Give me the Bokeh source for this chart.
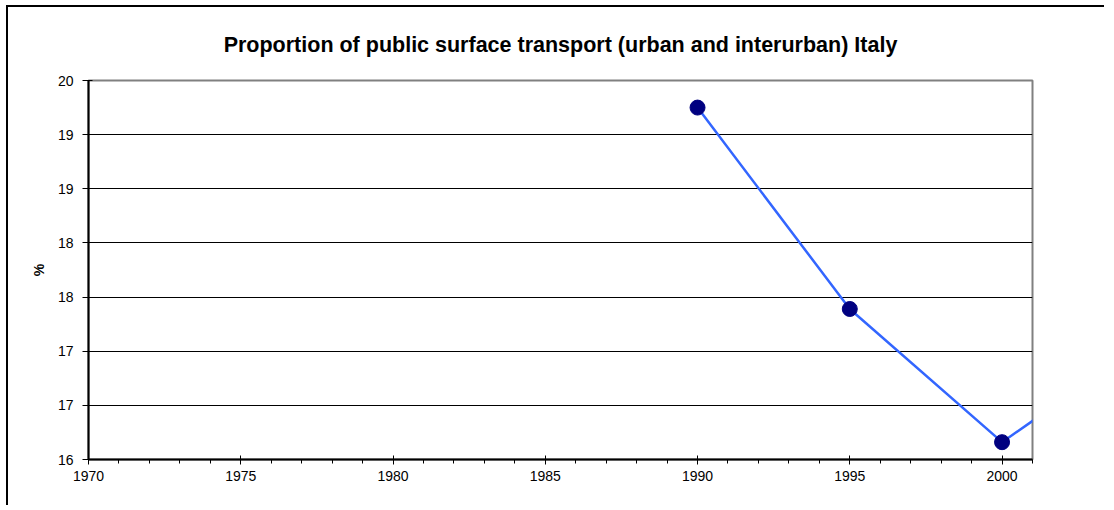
from bokeh.plotting import figure
from bokeh.models import FixedTicker, CustomJSTickFormatter, Range1d
from bokeh.embed import file_html
from bokeh.resources import INLINE

title_text = "Proportion of public surface transport (urban and interurban) Italy"
y_label = "%"
years = [1990, 1995, 2000, 2005]
share = [19.25, 17.39, 16.16, 17.14]
y_ticks = [16.0, 16.5, 17.0, 17.5, 18.0, 18.5, 19.0, 19.5]
x_major = [1970, 1975, 1980, 1985, 1990, 1995, 2000]
x_minor = list(range(1970, 2002))

p = figure(width=1098, height=500, output_backend="svg", toolbar_location=None,
           x_range=Range1d(1970, 2001), y_range=Range1d(16, 19.5),
           min_border_left=80, min_border_right=74, min_border_top=73, min_border_bottom=48)
p.styles = {"border-left": "2px solid black", "border-top": "2px solid black",
            "margin-left": "6px", "margin-top": "5px"}

p.title.text = title_text
p.title.align = "center"
p.title.text_font = "Liberation Sans"
p.title.text_font_style = "bold"
p.title.text_font_size = "21.5px"
p.title.text_color = "black"
p.title.offset = 7
p.title.standoff = 47

p.outline_line_color = "#808080"
p.outline_line_width = 2
p.background_fill_color = "white"
p.border_fill_color = "white"

# grid
p.xgrid.visible = False
p.ygrid.grid_line_color = "black"
p.ygrid.grid_line_width = 1
p.ygrid.ticker = FixedTicker(ticks=y_ticks)

# y axis
p.yaxis.ticker = FixedTicker(ticks=y_ticks)
p.yaxis.formatter = CustomJSTickFormatter(code="return Math.round(tick).toFixed(0);")
p.yaxis.axis_label = y_label
p.yaxis.axis_label_text_font = "Liberation Sans"
p.yaxis.axis_label_text_font_style = "bold"
p.yaxis.axis_label_text_font_size = "14px"
p.yaxis.axis_label_text_color = "black"
p.yaxis.axis_label_standoff = 8
p.yaxis.major_label_text_font = "Liberation Sans"
p.yaxis.major_label_text_font_size = "14px"
p.yaxis.major_label_text_color = "black"
p.yaxis.major_label_standoff = 9
p.yaxis.major_tick_out = 6
p.yaxis.major_tick_in = 4
p.yaxis.minor_tick_line_color = None
p.yaxis.axis_line_color = "black"
p.yaxis.axis_line_width = 2
p.yaxis.major_tick_line_color = "black"

# x axis
p.xaxis.ticker = FixedTicker(ticks=x_major, minor_ticks=x_minor)
p.xaxis.major_label_text_font = "Liberation Sans"
p.xaxis.major_label_text_font_size = "14px"
p.xaxis.major_label_text_color = "black"
p.xaxis.major_label_standoff = 6
p.xaxis.major_tick_out = 5
p.xaxis.major_tick_in = 4
p.xaxis.minor_tick_out = 4
p.xaxis.minor_tick_in = 0
p.xaxis.axis_line_color = "black"
p.xaxis.axis_line_width = 2
p.xaxis.major_tick_line_color = "black"
p.xaxis.minor_tick_line_color = "black"

p.line(years, share, line_color="#3366FF", line_width=2.5)
p.scatter(years, share, size=15, fill_color="#000080", line_color="#000080")

open("out.html", "w").write(file_html(p, INLINE))
